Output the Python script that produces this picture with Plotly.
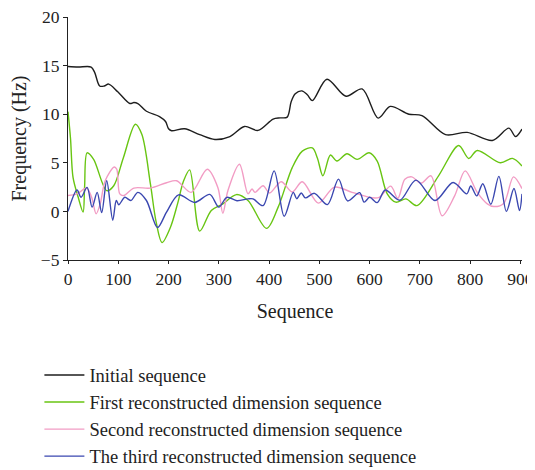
import plotly.graph_objects as go

# ---- data ----
initial_x = [0, 20, 46, 53, 63, 72, 81, 99, 123, 131, 139, 156, 182, 194, 200, 206, 232, 262, 292, 322, 351, 378, 408, 422, 436, 444, 452, 465, 476, 486, 515, 553, 585, 617, 641, 678, 704, 751, 794, 844, 877, 890, 903]
initial_y = [14.9, 14.85, 14.85, 14.3, 12.9, 12.9, 13.1, 12.3, 11.1, 11.2, 11.1, 10.3, 9.76, 9.25, 8.5, 8.3, 8.5, 7.9, 7.4, 7.7, 8.74, 8.33, 9.5, 9.62, 9.7, 11.3, 12.1, 12.4, 12.0, 11.4, 13.6, 11.85, 12.6, 9.6, 10.8, 10.0, 9.86, 7.9, 8.13, 7.3, 8.57, 7.7, 8.47]

first_x = [0, 5, 10, 20, 30, 33, 38, 51, 77, 91, 110, 134, 147, 164, 175, 187, 204, 218, 230, 242, 262, 285, 308, 335, 358, 395, 418, 446, 466, 486, 496, 507, 522, 535, 555, 575, 599, 615, 635, 652, 672, 694, 737, 777, 797, 814, 860, 884, 903]
first_y = [10.26, 7.5, 3.5, 1.5, -0.07, 2.5, 6.03, 5.35, 2.13, 2.64, 5.5, 8.97, 7.9, 2.8, -1.0, -3.2, -1.6, 0.8, 3.15, 4.27, -2.03, 0.1, 0.78, 1.73, 1.12, -1.75, 0.44, 4.5, 6.2, 6.53, 5.5, 3.66, 5.8, 5.18, 5.93, 5.35, 6.03, 5.18, 1.8, 0.95, 1.29, 0.6, 3.66, 6.78, 5.45, 6.27, 5.0, 5.45, 4.67]

second_x = [0, 18, 37, 47, 56, 64, 74, 92, 97, 103, 111, 131, 164, 196, 216, 245, 277, 298, 308, 318, 341, 358, 366, 372, 388, 401, 424, 446, 466, 498, 530, 565, 605, 619, 642, 656, 670, 684, 702, 722, 744, 769, 790, 814, 834, 847, 867, 886, 903]
second_y = [1.63, 1.8, 2.4, 1.45, -0.24, 0.78, 3.15, 4.57, 4.34, 1.8, 1.63, 2.4, 2.4, 2.95, 3.15, 1.96, 4.34, 2.47, -0.2, 2.13, 4.85, 1.8, 2.3, 1.96, 2.64, 1.9, 3.05, 2.0, 3.05, 0.85, 2.5, 1.96, 1.4, 1.45, 2.6, 1.35, 3.3, 3.55, 2.9, 3.66, -0.45, 1.6, 4.17, 1.96, 0.78, 0.5, 0.85, 3.55, 2.35]

third_x = [0, 18, 26, 38, 48, 58, 67, 77, 89, 96, 101, 113, 125, 139, 156, 178, 196, 220, 252, 282, 300, 316, 336, 358, 368, 388, 410, 430, 448, 455, 464, 472, 490, 516, 538, 556, 580, 589, 600, 615, 631, 660, 692, 730, 766, 793, 801, 813, 825, 841, 857, 872, 887, 898, 903]
third_y = [0.0, 2.2, 1.45, 2.47, 0.44, 1.96, -0.13, 3.15, -0.91, 1.12, 0.68, 1.45, 1.12, 1.96, 1.12, -1.66, -0.07, 1.7, 0.92, 1.75, 0.44, 1.45, 1.1, 1.29, 1.29, 0.6, 4.17, -0.5, 1.96, 1.3, 1.9, 1.39, 1.86, 0.7, 3.32, 1.08, 1.93, 0.95, 1.45, 0.9, 2.2, 1.15, 3.22, 1.12, 2.98, 1.8, 2.62, 1.6, 2.85, 0.74, 3.6, 0.0, 2.35, 0.1, 1.8]

names = ["Initial sequence",
         "First reconstructed dimension sequence",
         "Second reconstructed dimension sequence",
         "The third reconstructed dimension sequence"]
colors = ["#1e1e1e", "#68c512", "#f29cc4", "#3a47b0"]

x_ticks = [0, 100, 200, 300, 400, 500, 600, 700, 800, 900]
y_ticks = [-5, 0, 5, 10, 15, 20]

serif = "Liberation Serif"
ink = "#222222"

fig = go.Figure()
series = [(initial_x, initial_y), (first_x, first_y), (second_x, second_y), (third_x, third_y)]
for (xs, ys), nm, col in zip(series, names, colors):
    fig.add_trace(go.Scatter(
        x=xs, y=ys, mode="lines", name=nm,
        line=dict(color=col, width=1.4, shape="spline", smoothing=0.9),
    ))

# the page body adds an 8px offset, so the figure is 8px smaller on each axis
fig.update_layout(
    width=527, height=462,
    margin=dict(l=60, r=13, t=9, b=210, autoexpand=False),
    paper_bgcolor="white", plot_bgcolor="white",
    font=dict(family=serif, size=17, color=ink),
    showlegend=True,
    legend=dict(
        x=-0.063, xanchor="left", y=-0.397, yanchor="top",
        font=dict(family=serif, size=18.5, color=ink),
        itemwidth=40, bgcolor="rgba(0,0,0,0)",
    ),
    xaxis=dict(
        range=[0, 903], tickvals=x_ticks, ticktext=[str(v) for v in x_ticks],
        showline=True, linecolor=ink, linewidth=1.2,
        ticks="outside", ticklen=3, tickcolor=ink,
        showgrid=False, zeroline=False, automargin=False,
        ticklabeloverflow="allow",
        tickfont=dict(family=serif, size=17.5, color=ink),
        title=dict(text="Sequence", font=dict(family=serif, size=20, color=ink), standoff=15),
    ),
    yaxis=dict(
        range=[-5, 20], tickvals=y_ticks,
        showline=True, linecolor=ink, linewidth=1.2,
        ticks="outside", ticklen=4, tickcolor=ink,
        showgrid=False, zeroline=False, automargin=False,
        ticklabeloverflow="allow",
        tickfont=dict(family=serif, size=17.5, color=ink),
        title=dict(text="Frequency (Hz)", font=dict(family=serif, size=20, color=ink), standoff=8),
    ),
)

fig.write_html("out.html")
